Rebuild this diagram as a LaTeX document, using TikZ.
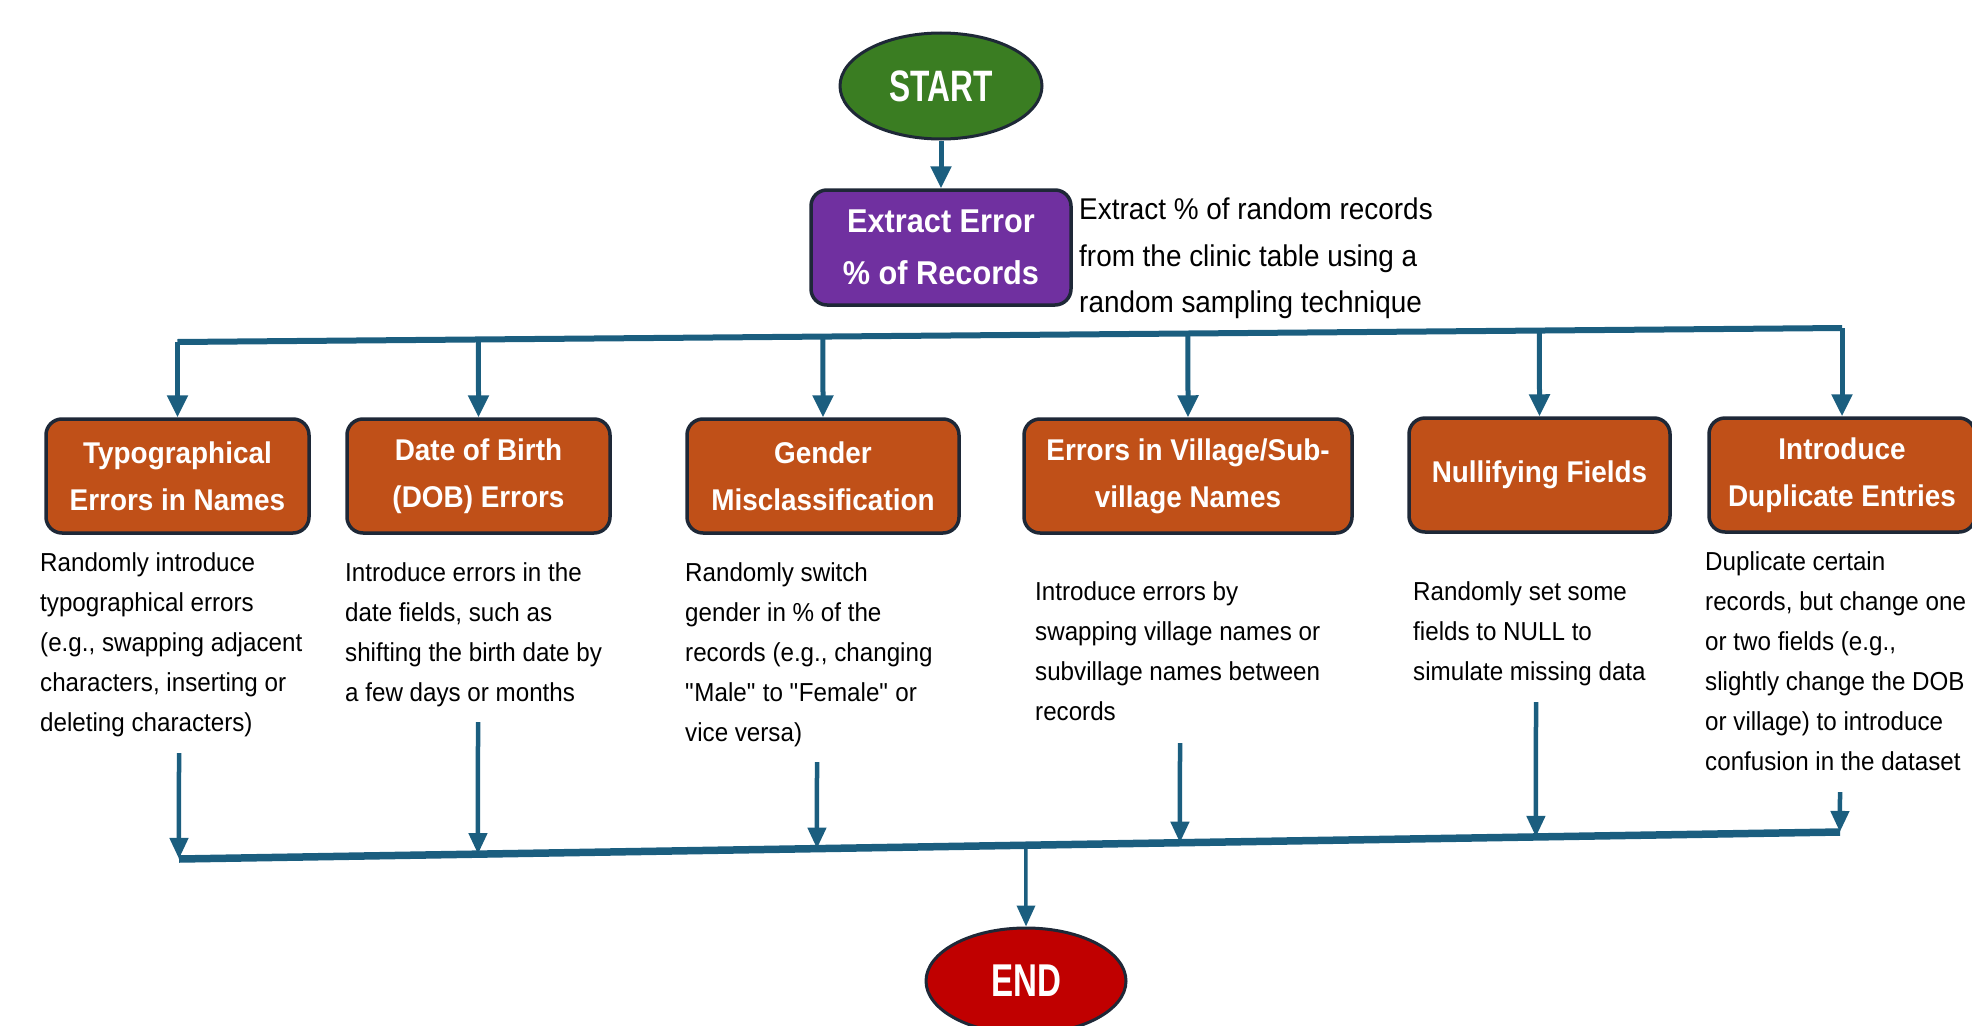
\documentclass[tikz,border=0pt]{standalone}
\usepackage{fontspec}
\setmainfont{Liberation Sans}[FakeStretch=0.93]
\newfontfamily\condfont{Liberation Sans}[FakeStretch=0.72]
\usetikzlibrary{shapes.geometric,arrows.meta,calc}
\definecolor{linec}{RGB}{27,94,127}
\definecolor{boxor}{RGB}{192,80,24}
\definecolor{boxpu}{RGB}{112,48,160}
\definecolor{stgreen}{RGB}{58,125,34}
\definecolor{endred}{RGB}{192,0,0}
\definecolor{edgec}{RGB}{30,40,55}
\begin{document}
\begin{tikzpicture}[x=1pt,y=-1pt,
  stepbox/.style={draw=edgec, line width=3.5pt, rounded corners=16pt, fill=boxor, text=white,
    align=center, font=\fontsize{30}{47}\selectfont\bfseries, minimum height=114pt, inner sep=0pt},
  terminal/.style={ellipse, draw=edgec, line width=3pt, text=white, inner sep=0pt,
    font=\condfont\fontsize{44}{50}\selectfont\bfseries},
  desc/.style={anchor=north west, align=left, inner sep=0pt, font=\fontsize{26}{40}\selectfont},
  arr/.style={draw=linec, line width=5pt, -{Triangle[length=22pt,width=20pt]}},
  arrlow/.style={draw=linec, line width=4.5pt, -{Triangle[length=21pt,width=18pt]}},
  busline/.style={draw=linec, line width=6pt},
  buslow/.style={draw=linec, line width=7.5pt}
]
\useasboundingbox (0,0) rectangle (1972,1025);

% terminals and extract box
\node[terminal, fill=stgreen, minimum width=202pt, minimum height=106pt] (start) at (941,86) {START};
\node[stepbox, fill=boxpu, minimum width=260pt, minimum height=115pt,
      font=\fontsize{33}{52}\selectfont\bfseries] (extract) at (941,247.5) {Extract Error\\\% of Records};
\node[anchor=north west, align=left, inner sep=0pt, font=\fontsize{30}{46.5}\selectfont] (sidetxt) at (1079,198)
  {Extract \% of random records\\from the clinic table using a\\random sampling technique};
\draw[arr] (start.south) -- (extract.north);

% error boxes
\node[stepbox, minimum width=263pt] (b1) at (177.5,476) {Typographical\\Errors in Names};
\node[stepbox, minimum width=263pt] (b2) at (478.5,476) {Date of Birth\\(DOB) Errors};
\node[stepbox, minimum width=272pt] (b3) at (823,476) {Gender\\Misclassification};
\node[stepbox, minimum width=328pt] (b4) at (1188,476) {Errors in Village/Sub-\\village Names};
\node[stepbox, minimum width=261pt] (b5) at (1539.5,475) {Nullifying Fields};
\node[stepbox, minimum width=266pt] (b6) at (1842,475) {Introduce\\Duplicate Entries};

% descriptions
\node[desc] (d1) at (40,552) {Randomly introduce\\typographical errors\\(e.g., swapping adjacent\\characters, inserting or\\deleting characters)};
\node[desc] (d2) at (345,562) {Introduce errors in the\\date fields, such as\\shifting the birth date by\\a few days or months};
\node[desc] (d3) at (685,562) {Randomly switch\\gender in \% of the\\records (e.g., changing\\\textquotedbl Male\textquotedbl{} to \textquotedbl Female\textquotedbl{} or\\vice versa)};
\node[desc] (d4) at (1035,581) {Introduce errors by\\swapping village names or\\subvillage names between\\records};
\node[desc] (d5) at (1413,581) {Randomly set some\\fields to NULL to\\simulate missing data};
\node[desc] (d6) at (1705,551) {Duplicate certain\\records, but change one\\or two fields (e.g.,\\slightly change the DOB\\or village) to introduce\\confusion in the dataset};

% top distribution bus
\coordinate (tL) at (b1.north |- 0,342);
\coordinate (tR) at (b6.north |- 0,328);
\draw[busline] (tL) -- (tR);
\draw[arr] (tL) -- (b1.north);
\draw[arr] (tR) -- (b6.north);
\foreach \b in {b2,b3,b4,b5}{
  \draw[arr] (intersection cs: first line={(tL)--(tR)}, second line={(\b.north)--($(\b.north)+(0,-10)$)}) -- (\b.north);
}

% bottom collection bus
\coordinate (bL) at (179,859);
\coordinate (bR) at (1840,832);
\draw[buslow] (bL) -- (bR);
\coordinate (s1) at (179,753);
\coordinate (s2) at (478,722);
\coordinate (s3) at (817,762);
\coordinate (s4) at (1180,743);
\coordinate (s5) at (1536,702);
\coordinate (s6) at (1840,792);
\foreach \s in {s1,s2,s3,s4,s5,s6}{
  \draw[arrlow] (\s) -- (intersection cs: first line={(bL)--(bR)}, second line={(\s)--($(\s)+(0,10)$)});
}

% end
\node[terminal, fill=endred, minimum width=200pt, minimum height=106pt,
      font=\condfont\fontsize{46}{50}\selectfont\bfseries] (end) at (1026,981) {END};
\coordinate (m) at (intersection cs: first line={(bL)--(bR)}, second line={(end.north)--($(end.north)+(0,-10)$)});
\draw[arrlow, line width=3.5pt] (m) -- (end.north);
\end{tikzpicture}
\end{document}
